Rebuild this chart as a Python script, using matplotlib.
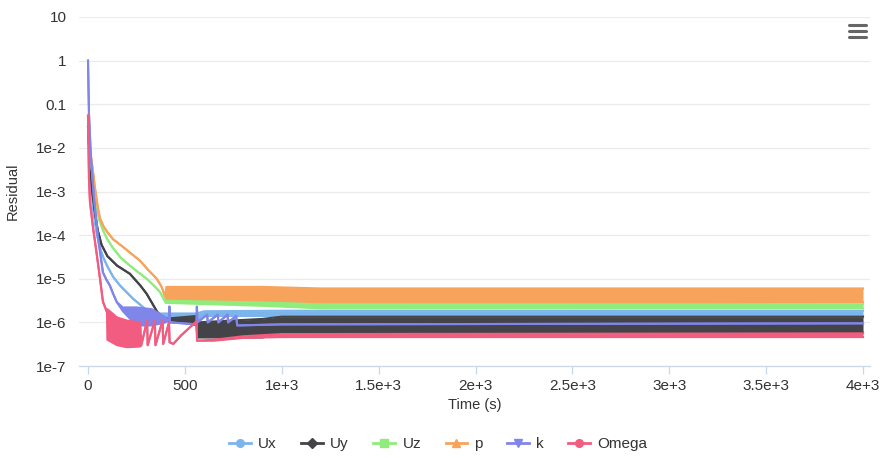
import matplotlib
matplotlib.use("Agg")
import matplotlib.pyplot as plt
from matplotlib.lines import Line2D

plt.rcParams["font.family"] = ["Liberation Sans", "DejaVu Sans"]

# ── Residual data (time in s, lower / upper envelope of each residual) ──────
ux_t  = [0, 8, 18, 30, 45, 62, 80, 98, 130, 165, 232, 303, 330, 560, 600, 1000, 4000]
ux_hi = [0.03, 5e-3, 1e-3, 3e-4, 1.1e-4, 5e-5, 3e-5, 2e-5, 1.1e-5, 7e-6, 3.5e-6,
         1.9e-6, 1.6e-6, 1.6e-6, 1.8e-6, 1.85e-6, 1.85e-6]
ux_lo = [0.03, 5e-3, 1e-3, 3e-4, 1.1e-4, 5e-5, 3e-5, 2e-5, 1.1e-5, 7e-6, 3.5e-6,
         1.9e-6, 1.1e-6, 1.1e-6, 1.4e-6, 1.4e-6, 1.4e-6]

uy_t  = [0, 10, 20, 35, 50, 70, 100, 150, 216, 270, 303, 330, 355, 387, 560, 565,
         900, 1000, 4000]
uy_hi = [0.03, 5e-3, 1.2e-3, 3.5e-4, 1.3e-4, 6e-5, 3.3e-5, 2e-5, 1.3e-5, 7e-6,
         4.5e-6, 2.8e-6, 1.8e-6, 1.2e-6, 1.4e-6, 1.0e-6, 1.2e-6, 1.35e-6, 1.35e-6]
uy_lo = [0.03, 5e-3, 1.2e-3, 3.5e-4, 1.3e-4, 6e-5, 3.3e-5, 2e-5, 1.3e-5, 7e-6,
         4.5e-6, 2.8e-6, 1.8e-6, 1.2e-6, 8.7e-7, 4.5e-7, 4.5e-7, 5.5e-7, 5.8e-7]

uz_t  = [0, 10, 25, 36, 55, 77, 100, 130, 170, 216, 260, 303, 340, 371, 395, 400,
         900, 1200, 4000]
uz_hi = [0.05, 8e-3, 2e-3, 7e-4, 2.5e-4, 1.3e-4, 8e-5, 5e-5, 3e-5, 2e-5, 1.4e-5,
         1e-5, 7e-6, 5e-6, 3.2e-6, 3.5e-6, 3.1e-6, 2.7e-6, 2.6e-6]
uz_lo = [0.05, 8e-3, 2e-3, 7e-4, 2.5e-4, 1.3e-4, 8e-5, 5e-5, 3e-5, 2e-5, 1.4e-5,
         1e-5, 7e-6, 5e-6, 3.2e-6, 2.8e-6, 2.4e-6, 2.1e-6, 2.1e-6]

p_t  = [0, 10, 25, 36, 50, 62, 80, 98, 130, 180, 225, 268, 310, 355, 380, 397, 405,
        900, 1200, 4000]
p_hi = [0.05, 1e-2, 3e-3, 1.2e-3, 4.5e-4, 2.4e-4, 1.6e-4, 1.2e-4, 8e-5, 5.4e-5,
        3.7e-5, 2.6e-5, 1.6e-5, 1e-5, 6.5e-6, 4e-6, 6.5e-6, 6.5e-6, 6e-6, 6e-6]
p_lo = [0.05, 1e-2, 3e-3, 1.2e-3, 4.5e-4, 2.4e-4, 1.6e-4, 1.2e-4, 8e-5, 5.4e-5,
        3.7e-5, 2.6e-5, 1.6e-5, 1e-5, 6.5e-6, 4e-6, 3.5e-6, 3.2e-6, 2.9e-6, 2.9e-6]

k_t  = [0, 5, 15, 30, 50, 77, 95, 113, 130, 149, 180, 250, 330, 400, 418, 420, 423,
        560, 562, 565, 615, 618, 670, 673, 720, 723, 765, 770, 1000, 4000]
k_hi = [1.0, 0.06, 6e-3, 8e-4, 1e-4, 1.4e-5, 9.5e-6, 7e-6, 4.5e-6, 2.9e-6, 2.2e-6,
        2.2e-6, 2e-6, 1.3e-6, 1.1e-6, 2.3e-6, 1.0e-6, 9e-7, 2.3e-6, 1.0e-6, 1.5e-6,
        1.0e-6, 1.5e-6, 1.0e-6, 1.5e-6, 1.0e-6, 1.4e-6, 8.5e-7, 9e-7, 9.5e-7]
k_lo = [1.0, 0.06, 6e-3, 8e-4, 1e-4, 1.4e-5, 9.5e-6, 7e-6, 4.5e-6, 2.9e-6, 1.8e-6,
        8.5e-7, 8.5e-7, 1e-6, 1.1e-6, 2.3e-6, 1.0e-6, 9e-7, 2.3e-6, 1.0e-6, 1.5e-6,
        1.0e-6, 1.5e-6, 1.0e-6, 1.5e-6, 1.0e-6, 1.4e-6, 8.5e-7, 9e-7, 9.5e-7]

om_t  = [0, 5, 10, 25, 46, 62, 77, 98, 100, 150, 200, 270, 275, 305, 308, 345, 348,
         385, 388, 418, 421, 440, 480, 530, 560, 563, 650, 800, 1000, 4000]
om_hi = [0.055, 2e-3, 5.9e-4, 1.6e-4, 3.4e-5, 1e-5, 3e-6, 1.7e-6, 2e-6, 1.3e-6,
         1.1e-6, 1.0e-6, 3e-7, 1.1e-6, 3e-7, 1.1e-6, 3e-7, 1.1e-6, 3.2e-7, 1.0e-6,
         3.5e-7, 3.2e-7, 5e-7, 8e-7, 1.05e-6, 3.8e-7, 4e-7, 4.8e-7, 5.4e-7, 5.6e-7]
om_lo = [0.055, 2e-3, 5.9e-4, 1.6e-4, 3.4e-5, 1e-5, 3e-6, 1.7e-6, 4e-7, 3e-7,
         2.7e-7, 2.8e-7, 3e-7, 1.1e-6, 3e-7, 1.1e-6, 3e-7, 1.1e-6, 3.2e-7, 1.0e-6,
         3.5e-7, 3.2e-7, 5e-7, 8e-7, 1.05e-6, 3.8e-7, 3.8e-7, 4.4e-7, 4.6e-7, 4.6e-7]

series_names   = ["Ux", "Uy", "Uz", "p", "k", "Omega"]
series_colors  = ["#7cb5ec", "#434348", "#90ed7d", "#f7a35c", "#8085e9", "#f15c80"]
series_markers = ["o", "D", "s", "^", "v", "o"]

y_ticks  = [10, 1, 0.1, 1e-2, 1e-3, 1e-4, 1e-5, 1e-6, 1e-7]
y_labels = ["10", "1", "0.1", "1e-2", "1e-3", "1e-4", "1e-5", "1e-6", "1e-7"]
x_ticks  = [0, 500, 1000, 1500, 2000, 2500, 3000, 3500, 4000]
x_labels = ["0", "500", "1e+3", "1.5e+3", "2e+3", "2.5e+3", "3e+3", "3.5e+3", "4e+3"]

data = [
    (ux_t, ux_lo, ux_hi),
    (uy_t, uy_lo, uy_hi),
    (uz_t, uz_lo, uz_hi),
    (p_t, p_lo, p_hi),
    (k_t, k_lo, k_hi),
    (om_t, om_lo, om_hi),
]

W, H = 882, 458
fig = plt.figure(figsize=(W / 100, H / 100), dpi=100)
ax = fig.add_axes([79 / W, (H - 366) / H, (870 - 79) / W, (366 - 17) / H])

for i, ((t, lo, hi), c) in enumerate(zip(data, series_colors)):
    z = 3 + i
    ax.fill_between(t, lo, hi, color=c, lw=0, zorder=z)
    ax.plot(t, hi, color=c, lw=1.5, zorder=z, solid_joinstyle="round")
    ax.plot(t, lo, color=c, lw=1.5, zorder=z, solid_joinstyle="round")

ax.set_yscale("log")
ax.set_ylim(1e-7, 10)
ax.set_xlim(-46.5, 4036)
ax.set_yticks(y_ticks)
ax.set_yticklabels(y_labels)
ax.minorticks_off()
ax.set_xticks(x_ticks)
ax.set_xticklabels(x_labels)

ax.grid(axis="y", color="#ebebeb", lw=0.9, zorder=0)
for s in ["top", "right", "left"]:
    ax.spines[s].set_visible(False)
ax.spines["bottom"].set_color("#ccd6eb")
ax.spines["bottom"].set_linewidth(0.9)
ax.tick_params(axis="y", length=0, pad=9, labelsize=11, labelcolor="#333333")
ax.tick_params(axis="x", length=6, width=0.9, color="#ccd6eb", pad=3,
               labelsize=11, labelcolor="#333333")

ax.set_xlabel("Time (s)", fontsize=10.5, color="#333333", labelpad=4)
ax.set_ylabel("Residual", fontsize=10.5, color="#333333", va="center")
ax.yaxis.set_label_coords((13 - 79) / (870 - 79), 0.5)

handles = [Line2D([], [], color=c, marker=m, lw=2, markersize=5.5, label=n)
           for n, c, m in zip(series_names, series_colors, series_markers)]
fig.legend(handles=handles, loc="center", bbox_to_anchor=(0.497, 1 - 444 / H),
           ncol=6, frameon=False, fontsize=11, handlelength=1.4,
           handletextpad=0.5, columnspacing=1.6, labelcolor="#333333")

# hamburger menu icon
for yy in (25, 31, 37):
    fig.add_artist(Line2D([849 / W, 866 / W], [1 - yy / H, 1 - yy / H],
                          color="#666666", lw=2.2, solid_capstyle="round"))

fig.savefig("out.png", dpi=100)
